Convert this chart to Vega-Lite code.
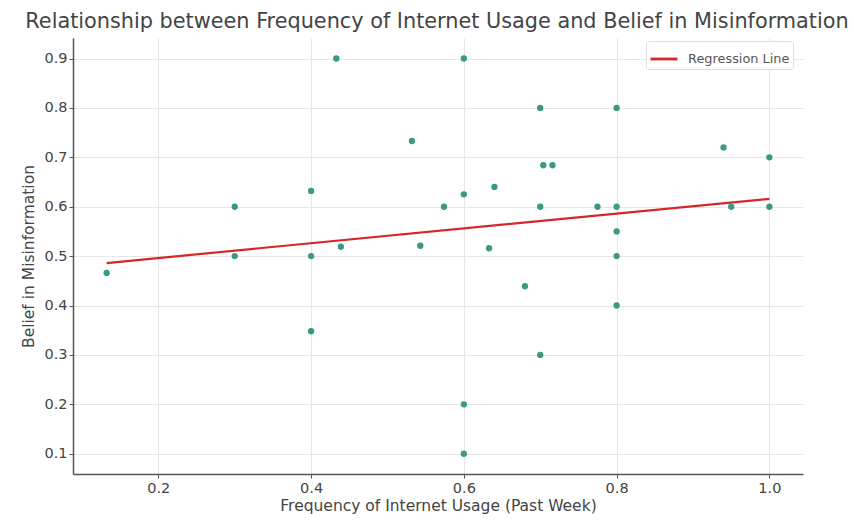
{
  "$schema": "https://vega.github.io/schema/vega-lite/v6.json",
  "width": 730,
  "height": 436,
  "autosize": {"type": "none"},
  "padding": {"left": 73, "top": 38, "right": 51, "bottom": 49},
  "background": "white",
  "config": {
    "font": "DejaVu Sans",
    "view": {"stroke": null},
    "axis": {
      "labelFont": "DejaVu Sans",
      "titleFont": "DejaVu Sans",
      "labelFontSize": 14.5,
      "titleFontSize": 15.5,
      "labelColor": "#444444",
      "titleColor": "#444444",
      "titleFontWeight": "normal",
      "gridColor": "#e6e6e6",
      "gridWidth": 1,
      "domainColor": "#555555",
      "domainWidth": 1.5,
      "tickColor": "#555555",
      "tickSize": 4
    }
  },
  "title": {
    "text": "Relationship between Frequency of Internet Usage and Belief in Misinformation",
    "font": "DejaVu Sans",
    "fontSize": 20.8,
    "fontWeight": "normal",
    "color": "#444444",
    "anchor": "middle",
    "offset": 5,
    "dx": -1
  },
  "datasets": {
    "points": [
      {"freq": 0.1324, "belief": 0.466},
      {"freq": 0.3, "belief": 0.6},
      {"freq": 0.3, "belief": 0.5},
      {"freq": 0.4, "belief": 0.632},
      {"freq": 0.4, "belief": 0.5},
      {"freq": 0.4, "belief": 0.348},
      {"freq": 0.433, "belief": 0.9},
      {"freq": 0.439, "belief": 0.519},
      {"freq": 0.532, "belief": 0.733},
      {"freq": 0.543, "belief": 0.521},
      {"freq": 0.574, "belief": 0.6},
      {"freq": 0.6, "belief": 0.9},
      {"freq": 0.6, "belief": 0.625},
      {"freq": 0.6, "belief": 0.2},
      {"freq": 0.6, "belief": 0.1},
      {"freq": 0.633, "belief": 0.516},
      {"freq": 0.64, "belief": 0.64},
      {"freq": 0.68, "belief": 0.439},
      {"freq": 0.7, "belief": 0.8},
      {"freq": 0.7, "belief": 0.6},
      {"freq": 0.7, "belief": 0.3},
      {"freq": 0.704, "belief": 0.684},
      {"freq": 0.716, "belief": 0.684},
      {"freq": 0.775, "belief": 0.6},
      {"freq": 0.8, "belief": 0.8},
      {"freq": 0.8, "belief": 0.6},
      {"freq": 0.8, "belief": 0.55},
      {"freq": 0.8, "belief": 0.5},
      {"freq": 0.8, "belief": 0.4},
      {"freq": 0.94, "belief": 0.72},
      {"freq": 0.95, "belief": 0.6},
      {"freq": 1.0, "belief": 0.7},
      {"freq": 1.0, "belief": 0.6}
    ],
    "regression": [
      {"freq": 0.1324, "belief": 0.486, "series": "Regression Line"},
      {"freq": 1.0, "belief": 0.616, "series": "Regression Line"}
    ]
  },
  "layer": [
    {
      "data": {"name": "points"},
      "mark": {"type": "circle", "size": 40, "color": "#3a9a80", "opacity": 1},
      "encoding": {
        "x": {
          "field": "freq",
          "type": "quantitative",
          "scale": {"domain": [0.0883, 1.044], "nice": false, "zero": false},
          "axis": {
            "title": "Frequency of Internet Usage (Past Week)",
            "values": [0.2, 0.4, 0.6, 0.8, 1.0],
            "format": ".1f",
            "titlePadding": 4,
            "labelPadding": 3
          }
        },
        "y": {
          "field": "belief",
          "type": "quantitative",
          "scale": {"domain": [0.059, 0.9415], "nice": false, "zero": false},
          "axis": {
            "title": "Belief in Misinformation",
            "values": [0.1, 0.2, 0.3, 0.4, 0.5, 0.6, 0.7, 0.8, 0.9],
            "format": ".1f",
            "titlePadding": 7,
            "labelPadding": 2
          }
        }
      }
    },
    {
      "data": {"name": "regression"},
      "mark": {"type": "line", "strokeWidth": 2.2},
      "encoding": {
        "x": {"field": "freq", "type": "quantitative"},
        "y": {"field": "belief", "type": "quantitative"},
        "color": {
          "field": "series",
          "type": "nominal",
          "scale": {"domain": ["Regression Line"], "range": ["#d7262b"]},
          "legend": {
            "title": null,
            "orient": "none",
            "legendX": 573,
            "legendY": 3,
            "symbolType": "stroke",
            "symbolSize": 729,
            "symbolStrokeWidth": 2.8,
            "labelFontSize": 12.9,
            "labelColor": "#555555",
            "labelFont": "DejaVu Sans",
            "labelOffset": 9,
            "fillColor": "white",
            "strokeColor": "#dddddd",
            "padding": 3,
            "cornerRadius": 3
          }
        }
      }
    }
  ]
}
